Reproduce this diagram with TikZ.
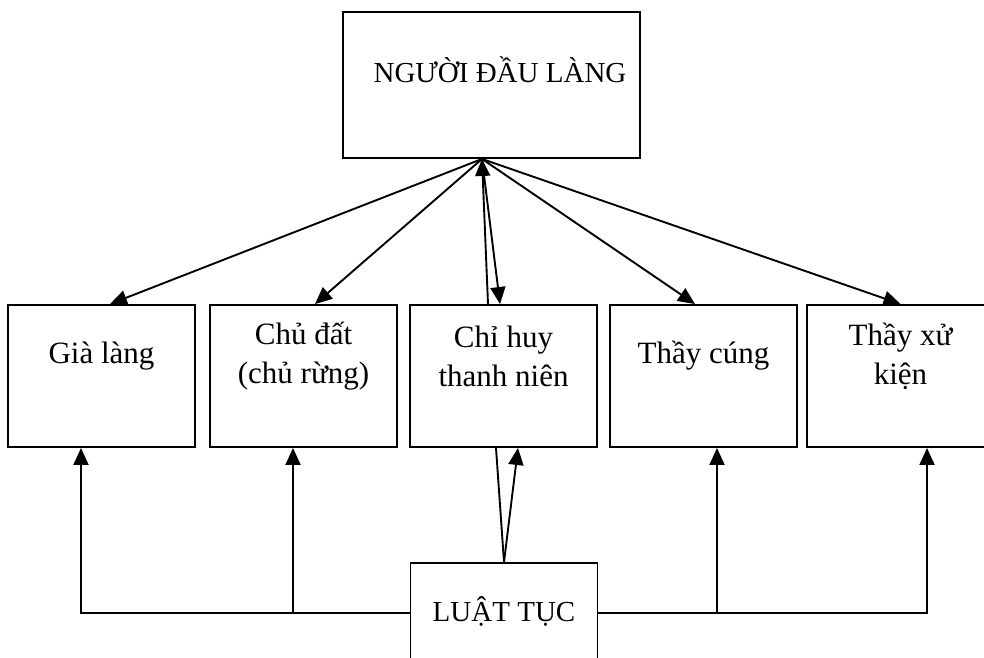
\documentclass[tikz,border=0pt]{standalone}
\usepackage{fontspec}
\setmainfont{Liberation Serif}
\usetikzlibrary{arrows.meta}

\tikzset{
    box/.style={draw, rectangle, minimum width=187pt, minimum height=142pt, inner sep=0pt},
    lbl/.style={align=center, font=\fontsize{31}{39}\selectfont},
    caps/.style={font=\fontsize{29}{35}\selectfont},
    arr/.style={-{Triangle[length=17pt,width=15pt]}}
}

\begin{document}
\begin{tikzpicture}[x=1pt, y=-1pt, line width=1.9pt]
\clip (0,0) rectangle (984,657);

% Head of the village
\node[box, minimum width=297pt, minimum height=146pt] (dau) at (491.5,85) {};
\node[caps, anchor=base] (daulbl) at (500,82) {NGƯỜI ĐẦU LÀNG};
\coordinate (apex) at ([xshift=-9.5pt]dau.south);

% Roles
\foreach \name/\x/\txt in {gia/101.5/Già làng, chudat/303.5/{Chủ đất\\(chủ rừng)}, chihuy/503.5/{Chỉ huy\\thanh niên}, thaycung/703.5/Thầy cúng, thayxu/900.5/{Thầy xử\\kiện}} {
    \node[box] (\name) at (\x,376) {};
    \node[lbl] (\name lbl) at (\x,356) {\txt};
}

% Customary law
\node[box, minimum height=140pt] (luat) at (504,633) {};
\node[caps, anchor=base] (luatlbl) at (504,621) {LUẬT TỤC};
\coordinate (lawleft) at ([yshift=20pt]luat.west);
\coordinate (lawright) at ([yshift=20pt]luat.east);

% Orders from the head
\draw[arr] (apex) -- ([xshift=8.5pt]gia.north);
\draw[arr] (apex) -- ([xshift=11.5pt]chudat.north);
\draw[arr] (apex) -- ([xshift=-3.5pt]chihuy.north);
\draw[arr] ([xshift=-15.5pt]chihuy.north) -- (apex);
\draw[arr] (apex) -- ([xshift=-8.5pt]thaycung.north);
\draw[arr] (apex) -- (thayxu.north);

% Law to the roles
\draw ([xshift=-7.5pt]chihuy.south) -- (luat.north);
\draw[arr] (luat.north) -- ([xshift=14.5pt]chihuy.south);
\draw[arr] (lawleft) -| ([xshift=-20.5pt]gia.south);
\draw[arr] ([xshift=-10.5pt]chudat.south |- lawleft) -- ([xshift=-10.5pt]chudat.south);
\draw[arr] (lawright) -| ([xshift=26.5pt]thayxu.south);
\draw[arr] ([xshift=13.5pt]thaycung.south |- lawright) -- ([xshift=13.5pt]thaycung.south);

\end{tikzpicture}
\end{document}
